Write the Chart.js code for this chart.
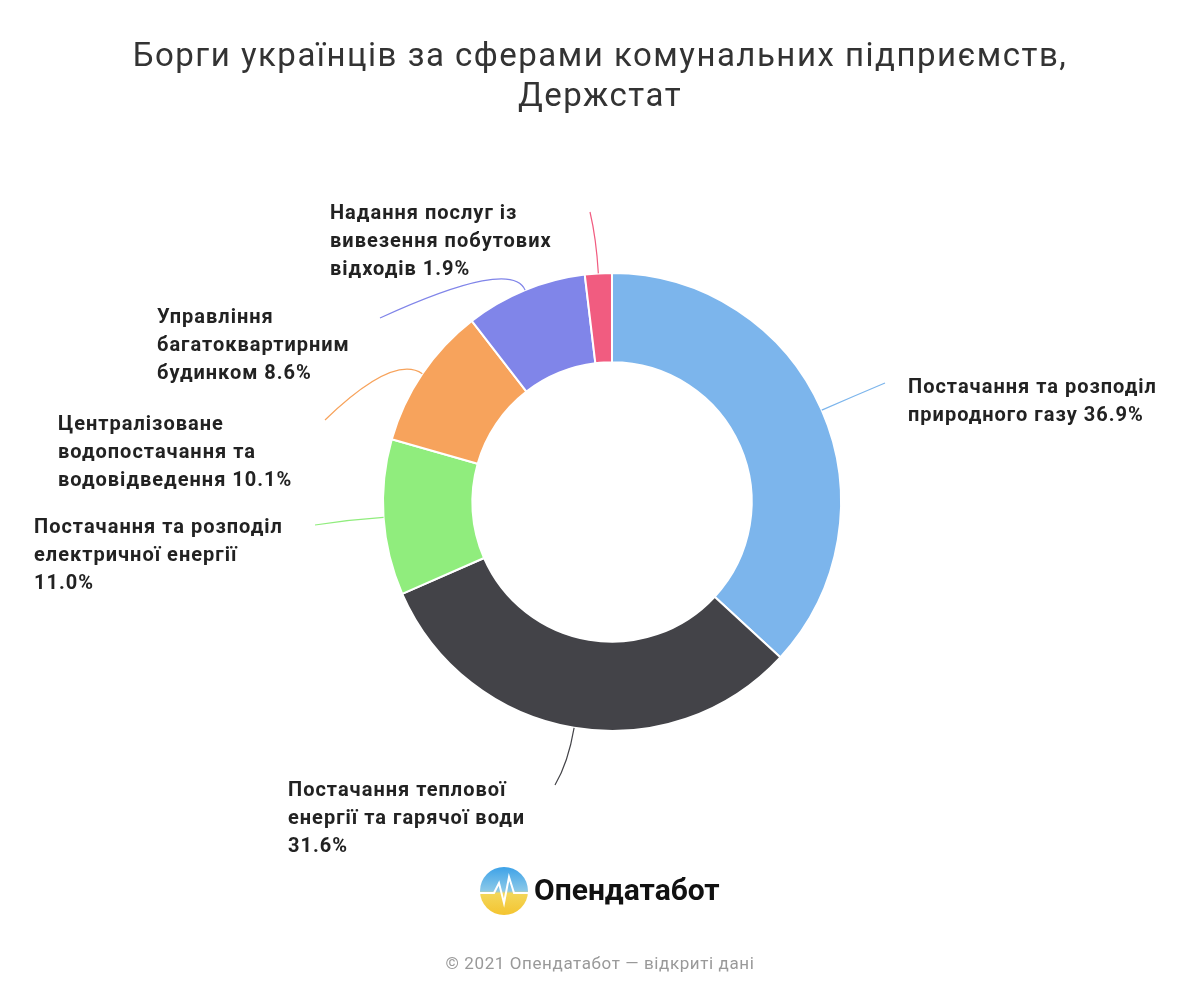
<!DOCTYPE html>
<html>
<head>
<meta charset="utf-8">
<script src="https://cdn.jsdelivr.net/npm/chart.js@4"></script>
<style>
  html, body { margin: 0; padding: 0; background: #fff; }
  #wrap { width: 1200px; height: 1000px; position: relative; }
</style>
</head>
<body>
<div id="wrap"><canvas id="debtChart" width="1200" height="1000"></canvas></div>
<script>
// Chart data
const categories = [
    ['Постачання та розподіл', 'природного газу 36.9%'],
    ['Постачання теплової', 'енергії та гарячої води', '31.6%'],
    ['Постачання та розподіл', 'електричної енергії', '11.0%'],
    ['Централізоване', 'водопостачання та', 'водовідведення 10.1%'],
    ['Управління', 'багатоквартирним', 'будинком 8.6%'],
    ['Надання послуг із', 'вивезення побутових', 'відходів 1.9%']
];
const shares = [36.9, 31.6, 11.0, 10.1, 8.6, 1.9];
const colors = ['#7cb5ec', '#434348', '#90ed7d', '#f7a35c', '#8085e9', '#f15c80'];

// label layout: connector end (relative to centre) and text top-left
const labelLayout = [
    { end: [273, -119], text: [296, -124] },
    { end: [-57, 283], text: [-324, 279] },
    { end: [-297, 23], text: [-578, 16] },
    { end: [-287, -82], text: [-554, -87] },
    { end: [-232, -184], text: [-455, -194] },
    { end: [-22, -290], text: [-282, -298] }
];

const labelPlugin = {
    id: 'labels',
    afterDatasetsDraw(chart) {
        const ctx = chart.ctx;
        const arcs = chart.getDatasetMeta(0).data;
        ctx.save();
        arcs.forEach((arc, i) => {
            const mid = (arc.startAngle + arc.endAngle) / 2;
            const cx = arc.x, cy = arc.y;
            const r = arc.outerRadius;
            const sx = cx + Math.cos(mid) * r, sy = cy + Math.sin(mid) * r;
            const kx = cx + Math.cos(mid) * (r + 35), ky = cy + Math.sin(mid) * (r + 35);
            const lay = labelLayout[i];
            const ex = cx + lay.end[0], ey = cy + lay.end[1];
            ctx.strokeStyle = colors[i];
            ctx.lineWidth = 1.2;
            ctx.beginPath();
            ctx.moveTo(sx, sy);
            ctx.quadraticCurveTo(kx, ky, ex, ey);
            ctx.stroke();

            ctx.fillStyle = '#222';
            ctx.font = 'bold 20px Roboto';
            ctx.letterSpacing = '1px';
            ctx.textAlign = 'left';
            ctx.textBaseline = 'top';
            categories[i].forEach((line, j) => {
                ctx.fillText(line, cx + lay.text[0], cy + lay.text[1] + j * 28);
            });
        });
        ctx.restore();
    },
    afterDraw(chart) {
        const ctx = chart.ctx;
        ctx.save();
        ctx.textAlign = 'center';
        ctx.textBaseline = 'middle';
        ctx.fillStyle = '#333';
        ctx.font = '33px Roboto';
        ctx.letterSpacing = '1.5px';
        ctx.fillText('Борги українців за сферами комунальних підприємств,', 600, 58);
        ctx.fillText('Держстат', 600, 98);

        // logo
        const lx = 504, ly = 891, lr = 24;
        const g = ctx.createLinearGradient(0, ly - lr, 0, ly + lr);
        g.addColorStop(0, '#3da2e8');
        g.addColorStop(0.5, '#8cc9e8');
        g.addColorStop(0.55, '#f3d75a');
        g.addColorStop(1, '#f4c430');
        ctx.fillStyle = g;
        ctx.beginPath();
        ctx.arc(lx, ly, lr, 0, Math.PI * 2);
        ctx.fill();
        ctx.strokeStyle = '#fff';
        ctx.lineWidth = 2;
        ctx.beginPath();
        ctx.moveTo(lx - lr, ly + 2);
        ctx.lineTo(lx - 10, ly + 2);
        ctx.lineTo(lx - 5, ly - 8);
        ctx.lineTo(lx, ly + 12);
        ctx.lineTo(lx + 5, ly - 14);
        ctx.lineTo(lx + 10, ly + 2);
        ctx.lineTo(lx + lr, ly + 2);
        ctx.stroke();

        ctx.fillStyle = '#111';
        ctx.font = 'bold 30px Roboto';
        ctx.letterSpacing = '0px';
        ctx.textAlign = 'left';
        ctx.fillText('Опендатабот', 534, 892);

        ctx.fillStyle = '#999';
        ctx.font = '17px Roboto';
        ctx.letterSpacing = '0.6px';
        ctx.textAlign = 'center';
        ctx.fillText('© 2021 Опендатабот — відкриті дані', 600, 965);
        ctx.restore();
    }
};

new Chart(document.getElementById('debtChart'), {
    type: 'doughnut',
    data: {
        labels: categories.map(c => c.join(' ')),
        datasets: [{
            data: shares,
            backgroundColor: colors,
            borderColor: '#fff',
            borderWidth: 2
        }]
    },
    options: {
        responsive: false,
        animation: false,
        cutout: '61%',
        layout: { padding: { left: 382, right: 358, top: 272, bottom: 268 } },
        plugins: {
            legend: { display: false },
            tooltip: { enabled: false }
        }
    },
    plugins: [labelPlugin]
});
</script>
</body>
</html>
